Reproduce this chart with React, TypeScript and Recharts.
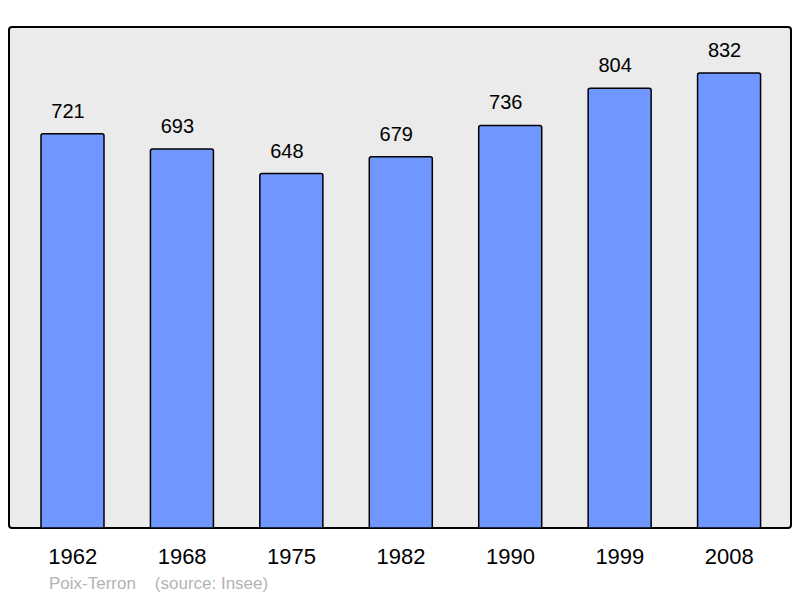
import React from "react";
import { BarChart, Bar, XAxis, YAxis, LabelList } from "recharts";

const years = ["1962", "1968", "1975", "1982", "1990", "1999", "2008"];
const population = [721, 693, 648, 679, 736, 804, 832];
const commune = "Poix-Terron";
const source = "(source: Insee)";

const data = years.map((year, i) => ({ year, population: population[i] }));

// étiquette de valeur, un peu à gauche du centre comme dans l'original
const ValueLabel = (props: any) => {
  const { x, y, width, value } = props;
  return (
    <text
      x={x + width / 2 - 4.5}
      y={y - 16}
      textAnchor="middle"
      fontSize={20}
      fontFamily="'Liberation Sans', Arial, sans-serif"
      fill="#000"
    >
      {value}
    </text>
  );
};

export default function App() {
  return (
    <div
      style={{
        position: "absolute",
        left: 0,
        top: 0,
        width: 800,
        height: 598,
        background: "#fff",
        fontFamily: "'Liberation Sans', Arial, sans-serif",
      }}
    >
      {/* cadre gris */}
      <div
        style={{
          position: "absolute",
          left: 8,
          top: 26,
          width: 784,
          height: 503,
          boxSizing: "border-box",
          border: "2px solid #000",
          borderRadius: 4,
          background: "#ebebeb",
        }}
      />
      <div style={{ position: "absolute", left: 0, top: 0 }}>
        <BarChart
          width={800}
          height={598}
          data={data}
          margin={{ top: 27, right: 9, left: 9, bottom: 30 }}
          barSize={63}
        >
          <XAxis
            dataKey="year"
            height={40}
            axisLine={false}
            tickLine={false}
            tickSize={6}
            tickMargin={14}
            padding={{ left: 9, right: 7 }}
            interval={0}
            tick={{
              fontSize: 22,
              fill: "#000",
              fontFamily: "'Liberation Sans', Arial, sans-serif",
            }}
          />
          <YAxis hide domain={[0, 916]} />
          <Bar
            dataKey="population"
            fill="#7096ff"
            stroke="#000"
            strokeWidth={1.5}
            radius={[2, 2, 0, 0]}
            isAnimationActive={false}
          >
            <LabelList dataKey="population" content={ValueLabel} />
          </Bar>
        </BarChart>
      </div>
      <div
        style={{
          position: "absolute",
          left: 49,
          top: 574,
          fontSize: 17,
          color: "#b3b3b3",
          whiteSpace: "pre",
        }}
      >
        {commune + "    " + source}
      </div>
    </div>
  );
}
